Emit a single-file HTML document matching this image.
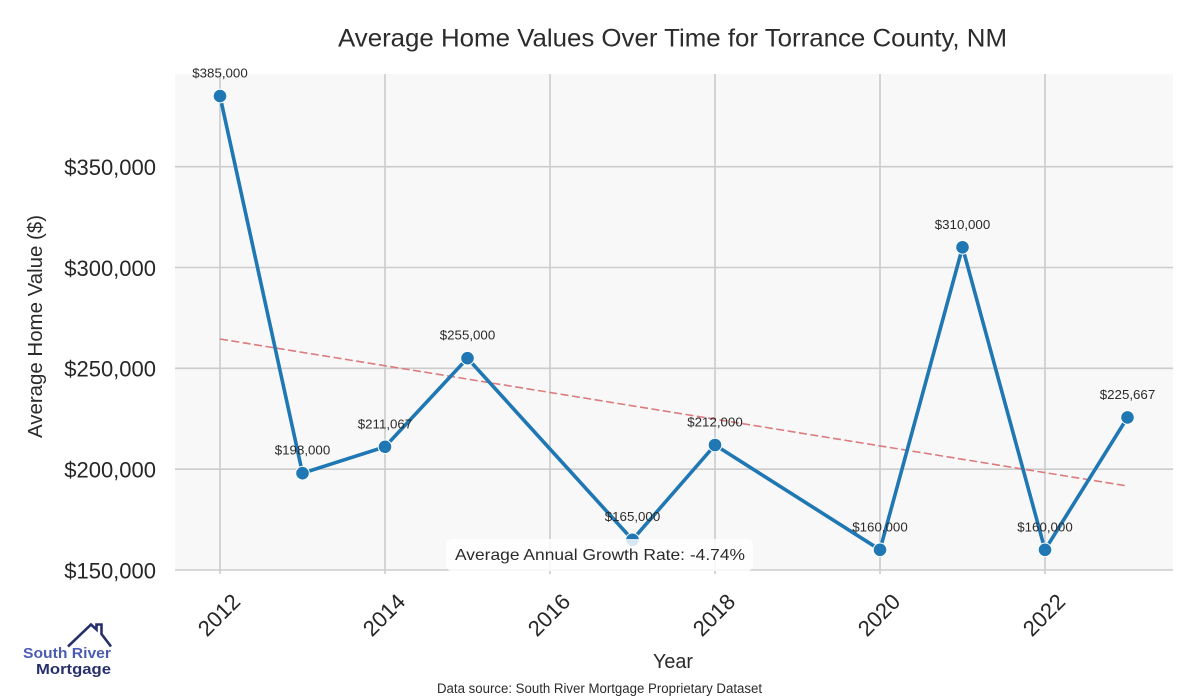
<!DOCTYPE html>
<html>
<head>
<meta charset="utf-8">
<style>
  html, body { margin: 0; padding: 0; background: #ffffff; }
  svg { display: block; }
  text { font-family: "Liberation Sans", "DejaVu Sans", sans-serif; }
</style>
</head>
<body>
<svg width="1200" height="700" viewBox="0 0 1200 700" xmlns="http://www.w3.org/2000/svg">
  <rect x="0" y="0" width="1200" height="700" fill="#ffffff"/>

  <!-- Title -->
  <text x="338" y="46.5" font-size="25" fill="#2b2b2b" textLength="669" lengthAdjust="spacingAndGlyphs">Average Home Values Over Time for Torrance County, NM</text>

  <!-- Plot area -->
  <rect x="175" y="74" width="998" height="496" fill="#f8f8f8"/>

  <!-- Grid lines -->
  <g stroke="#cccccc" stroke-width="1.6">
    <line x1="175" y1="469.2" x2="1173" y2="469.2"/>
    <line x1="175" y1="368.3" x2="1173" y2="368.3"/>
    <line x1="175" y1="267.5" x2="1173" y2="267.5"/>
    <line x1="175" y1="166.7" x2="1173" y2="166.7"/>
    <line x1="220" y1="74" x2="220" y2="574"/>
    <line x1="385" y1="74" x2="385" y2="574"/>
    <line x1="550" y1="74" x2="550" y2="574"/>
    <line x1="715" y1="74" x2="715" y2="574"/>
    <line x1="880" y1="74" x2="880" y2="574"/>
    <line x1="1045" y1="74" x2="1045" y2="574"/>
    <line x1="175" y1="570" x2="1173" y2="570"/>
  </g>

  <!-- Y tick labels -->
  <g font-size="22" fill="#262626" text-anchor="end">
    <text x="156" y="578.3">$150,000</text>
    <text x="156" y="477.5">$200,000</text>
    <text x="156" y="376.6">$250,000</text>
    <text x="156" y="275.8">$300,000</text>
    <text x="156" y="175">$350,000</text>
  </g>

  <!-- X tick labels (rotated 45) -->
  <g font-size="22" fill="#262626" text-anchor="middle" dominant-baseline="central">
    <text transform="translate(219,615) rotate(-45)">2012</text>
    <text transform="translate(384,615) rotate(-45)">2014</text>
    <text transform="translate(549,615) rotate(-45)">2016</text>
    <text transform="translate(714,615) rotate(-45)">2018</text>
    <text transform="translate(879,615) rotate(-45)">2020</text>
    <text transform="translate(1044,615) rotate(-45)">2022</text>
  </g>

  <!-- Trend line -->
  <line x1="220" y1="339" x2="1127.5" y2="486" stroke="#dc7c7e" stroke-width="1.6" stroke-dasharray="8,3.5"/>

  <!-- Data line -->
  <polyline fill="none" stroke="#1f77b4" stroke-width="3.6" stroke-linejoin="round"
    points="220,96.1 302.5,473.2 385,446.8 467.5,358.2 632.5,539.75 715,445 880,549.8 962.5,247.3 1045,549.8 1127.5,417.4"/>

  <!-- Markers -->
  <g fill="#1f77b4" stroke="#ffffff" stroke-width="1">
    <circle cx="220" cy="96.1" r="6.8"/>
    <circle cx="302.5" cy="473.2" r="6.8"/>
    <circle cx="385" cy="446.8" r="6.8"/>
    <circle cx="467.5" cy="358.2" r="6.8"/>
    <circle cx="632.5" cy="539.75" r="6.8"/>
    <circle cx="715" cy="445" r="6.8"/>
    <circle cx="880" cy="549.8" r="6.8"/>
    <circle cx="962.5" cy="247.3" r="6.8"/>
    <circle cx="1045" cy="549.8" r="6.8"/>
    <circle cx="1127.5" cy="417.4" r="6.8"/>
  </g>

  <!-- Data labels -->
  <g font-size="13.3" fill="#2b2b2b" text-anchor="middle">
    <text x="220" y="77.3">$385,000</text>
    <text x="302.5" y="454.7">$198,000</text>
    <text x="385" y="428.3">$211,067</text>
    <text x="467.5" y="339.7">$255,000</text>
    <text x="632.5" y="521.2">$165,000</text>
    <text x="715" y="426.5">$212,000</text>
    <text x="880" y="531.3">$160,000</text>
    <text x="962.5" y="228.8">$310,000</text>
    <text x="1045" y="531.3">$160,000</text>
    <text x="1127.5" y="398.9">$225,667</text>
  </g>

  <!-- Annotation box -->
  <rect x="446" y="539" width="307" height="32" rx="6" ry="6" fill="#ffffff" fill-opacity="0.82"/>
  <text x="455" y="560" font-size="16" fill="#2b2b2b" textLength="290" lengthAdjust="spacingAndGlyphs">Average Annual Growth Rate: -4.74%</text>

  <!-- Axis labels -->
  <text transform="translate(42,326.5) rotate(-90)" font-size="20" fill="#2b2b2b" text-anchor="middle" textLength="223" lengthAdjust="spacingAndGlyphs">Average Home Value ($)</text>
  <text x="653" y="668" font-size="20" fill="#2b2b2b" textLength="40" lengthAdjust="spacingAndGlyphs">Year</text>

  <!-- Data source -->
  <text x="437" y="693" font-size="13.5" fill="#2b2b2b" textLength="325" lengthAdjust="spacingAndGlyphs">Data source: South River Mortgage Proprietary Dataset</text>

  <!-- Logo -->
  <g fill="none" stroke="#27306b" stroke-width="2.6" stroke-linejoin="miter">
    <polyline points="68,646.5 91,624.5 96.5,629.5 96.5,624.5 101.5,624.5 101.5,634 111,646.5"/>
  </g>
  <text x="23" y="658" font-size="14.5" font-weight="bold" fill="#4a5db3" textLength="88" lengthAdjust="spacingAndGlyphs">South River</text>
  <text x="36" y="674" font-size="14.5" font-weight="bold" fill="#27306b" textLength="75" lengthAdjust="spacingAndGlyphs">Mortgage</text>
</svg>
</body>
</html>
